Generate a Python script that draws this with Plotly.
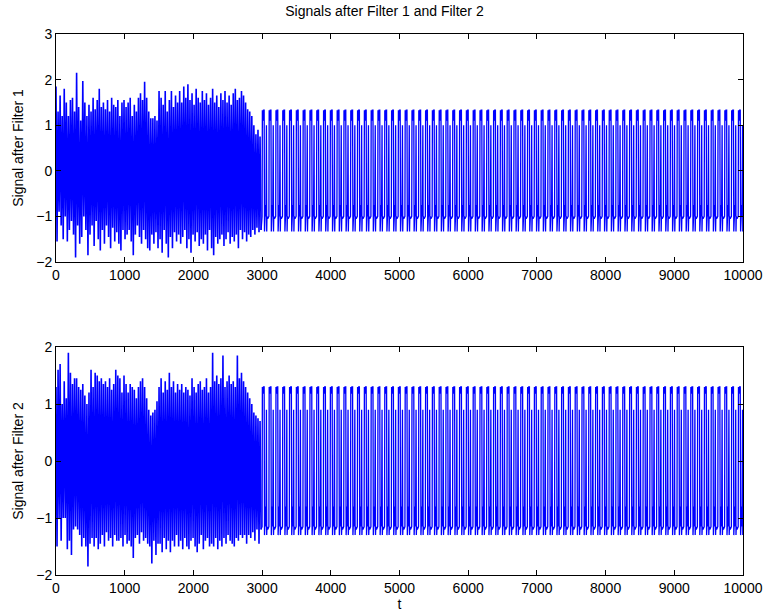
import plotly.graph_objects as go
from plotly.subplots import make_subplots

# ---- data ----
N_SAMPLES = 10000
CHAOS_END = 3000
CHAOS_STEP = 15  # samples between successive extremes in the irregular part

f1_chaos = [
    1.85, -1.55, 1.3, -0.9, 1.65, -1.2, 1.2, -1.5, 1.8, -1.0,
    1.5, -1.55, 1.2, -1.3, 1.55, -1.1, 1.6, -1.4, 1.3, -1.9,
    2.15, -1.2, 1.4, -1.6, 1.1, -1.45, 1.97, -1.0, 1.5, -1.3,
    1.2, -1.85, 1.45, -1.4, 1.3, -1.2, 1.6, -1.65, 1.35, -1.1,
    1.55, -1.5, 1.8, -1.75, 1.4, -1.3, 1.5, -1.6, 1.35, -1.2,
    1.55, -1.45, 1.3, -1.7, 1.6, -1.25, 1.45, -1.55, 1.4, -1.35,
    1.55, -1.6, 1.2, -1.75, 1.5, -1.3, 1.55, -1.5, 1.4, -1.4,
    1.5, -1.3, 1.6, -1.55, 1.2, -1.85, 1.45, -1.4, 1.3, -1.2,
    1.6, -1.45, 1.7, -1.6, 1.55, -1.3, 1.95, -1.5, 1.6, -1.7,
    1.3, -1.75, 1.15, -1.4, 1.15, -1.6, 1.2, -1.35, 1.1, -1.7,
    1.75, -1.5, 1.6, -1.8, 1.45, -1.3, 1.75, -1.6, 1.3, -1.9,
    1.55, -1.45, 1.75, -1.7, 1.4, -1.35, 1.65, -1.55, 1.5, -1.4,
    1.75, -1.6, 1.5, -1.45, 1.85, -1.3, 1.6, -1.7, 1.9, -1.5,
    1.55, -1.8, 1.7, -1.4, 1.45, -1.55, 1.8, -1.35, 1.6, -1.65,
    1.5, -1.5, 1.75, -1.6, 1.55, -1.4, 1.7, -1.75, 1.45, -1.3,
    1.6, -1.7, 1.8, -1.85, 1.5, -1.45, 1.65, -1.6, 1.4, -1.5,
    1.7, -1.4, 1.55, -1.65, 1.75, -1.5, 1.5, -1.35, 1.65, -1.6,
    1.45, -1.45, 1.7, -1.55, 1.8, -1.4, 1.55, -1.7, 1.6, -1.3,
    1.75, -1.5, 1.65, -1.35, 1.5, -1.55, 1.35, -1.4, 1.3, -1.45,
    1.2, -1.3, 1.0, -1.4, 0.8, -1.25, 0.9, -1.35, 0.75, -1.3,
]

f2_chaos = [
    1.3, -1.5, 1.6, -1.0, 1.7, -1.4, 1.0, -1.0, 1.4, -1.0,
    1.1, -1.55, 1.9, -1.4, 1.55, -1.65, 1.35, -1.2, 1.45, -1.15,
    1.45, -1.2, 1.3, -1.3, 1.25, -1.5, 1.35, -1.35, 1.15, -1.5,
    1.0, -1.85, 1.2, -1.45, 1.6, -1.35, 1.3, -1.5, 1.55, -1.35,
    1.5, -1.55, 1.4, -1.45, 1.45, -1.3, 1.35, -1.5, 1.4, -1.25,
    1.3, -1.4, 1.45, -1.35, 1.25, -1.5, 1.35, -1.3, 1.6, -1.4,
    1.5, -1.4, 1.45, -1.35, 1.2, -1.5, 1.5, -1.3, 1.35, -1.45,
    1.2, -1.4, 1.35, -1.5, 1.3, -1.7, 1.25, -1.35, 1.1, -1.3,
    1.3, -1.45, 1.4, -1.25, 1.45, -1.4, 1.3, -1.35, 1.1, -1.45,
    0.9, -1.5, 0.8, -1.8, 0.85, -1.4, 0.9, -1.65, 1.05, -1.45,
    1.3, -1.45, 1.45, -1.6, 1.2, -1.35, 1.4, -1.55, 1.25, -1.4,
    1.55, -1.6, 1.3, -1.4, 1.4, -1.5, 1.2, -1.3, 1.35, -1.5,
    1.25, -1.4, 1.35, -1.55, 1.2, -1.35, 1.3, -1.5, 1.25, -1.55,
    1.15, -1.4, 1.45, -1.35, 1.3, -1.5, 1.2, -1.6, 1.35, -1.45,
    1.4, -1.3, 1.25, -1.55, 1.3, -1.4, 1.45, -1.35, 1.2, -1.5,
    1.3, -1.45, 1.9, -1.5, 1.4, -1.35, 1.5, -1.55, 1.35, -1.4,
    1.45, -1.5, 1.85, -1.35, 1.3, -1.45, 1.4, -1.3, 1.5, -1.4,
    1.35, -1.45, 1.4, -1.5, 1.3, -1.35, 1.85, -1.4, 1.45, -1.3,
    1.55, -1.35, 1.4, -1.3, 1.3, -1.45, 1.2, -1.3, 1.1, -1.35,
    1.0, -1.25, 0.85, -1.4, 0.8, -1.2, 0.75, -1.45, 0.7, -1.2,
]

# periodic part after t = 3000: one cycle, repeated
CYCLE_LEN = 99
cycle_offsets = [0, 4, 12, 20, 30, 35, 42, 50, 56, 63, 67, 71, 82, 92]
f1_cycle = [-1.0, 1.33, 1.1, 1.33, 1.33, -1.33, -1.0, -0.75, -1.0, 1.0, -1.33, -1.0, -1.05, -1.0]
f2_cycle = [-1.15, 1.3, 1.18, 1.3, 1.3, -1.3, -1.15, -0.8, -1.15, 0.9, -1.3, -1.15, -1.2, -1.15]

TITLE = "Signals after Filter 1 and Filter 2"
YLABEL1 = "Signal after Filter 1"
YLABEL2 = "Signal after Filter 2"
XLABEL = "t"
X_TICKS = [0, 1000, 2000, 3000, 4000, 5000, 6000, 7000, 8000, 9000, 10000]
Y1_TICKS = [-2, -1, 0, 1, 2, 3]
Y2_TICKS = [-2, -1, 0, 1, 2]


def build_chaos(chaos):
    t = [i * CHAOS_STEP for i in range(len(chaos))]
    return t, list(chaos)


def build_periodic(chaos, cyc):
    t = [(len(chaos) - 1) * CHAOS_STEP]
    y = [chaos[-1]]
    start = CHAOS_END
    while start < N_SAMPLES:
        for off, v in zip(cycle_offsets, cyc):
            if start + off <= N_SAMPLES:
                t.append(start + off)
                y.append(v)
        start += CYCLE_LEN
    return t, y


BLUE = "#0000ff"
FONT = "Liberation Sans, Arial, Helvetica, sans-serif"
fig = make_subplots(rows=2, cols=1, vertical_spacing=0.0)
for row, chaos, cyc in [(1, f1_chaos, f1_cycle), (2, f2_chaos, f2_cycle)]:
    tc, yc = build_chaos(chaos)
    tp, yp = build_periodic(chaos, cyc)
    fig.add_trace(go.Scatter(x=tc, y=yc, mode="lines", line=dict(color=BLUE, width=1.6)), row=row, col=1)
    fig.add_trace(go.Scatter(x=tp, y=yp, mode="lines", line=dict(color=BLUE, width=1.3)), row=row, col=1)

axis_common = dict(
    showgrid=False, zeroline=False, showline=True, linecolor="black", linewidth=1,
    mirror="ticks", ticks="inside", ticklen=5, tickcolor="black", automargin=False,
    tickfont=dict(family=FONT, size=14, color="black"),
)

fig.update_xaxes(range=[0, 10000], tickvals=X_TICKS, ticktext=[str(v) for v in X_TICKS], **axis_common)
fig.update_xaxes(domain=[0, 1])
fig.update_yaxes(**axis_common)
fig.update_yaxes(range=[-2, 3], tickvals=Y1_TICKS, domain=[0.5786, 1.0], row=1, col=1,
                 title=dict(text=YLABEL1, standoff=9, font=dict(family=FONT, size=14, color="black")))
fig.update_yaxes(range=[-2, 2], tickvals=Y2_TICKS, domain=[0.0, 0.4214], row=2, col=1,
                 title=dict(text=YLABEL2, standoff=9, font=dict(family=FONT, size=14, color="black")))
fig.update_xaxes(row=2, col=1, title=dict(text=XLABEL, standoff=1, font=dict(family=FONT, size=14, color="black")))

fig.update_layout(
    width=769, height=616,
    margin=dict(l=56, r=26, t=34, b=41),
    paper_bgcolor="white", plot_bgcolor="white",
    showlegend=False,
    font=dict(family=FONT, size=14, color="black"),
    title=dict(text=TITLE, x=0.5, xanchor="center", y=1 - 11 / 616, yanchor="middle",
               font=dict(family=FONT, size=14, color="black")),
)

fig.write_html("out.html")
